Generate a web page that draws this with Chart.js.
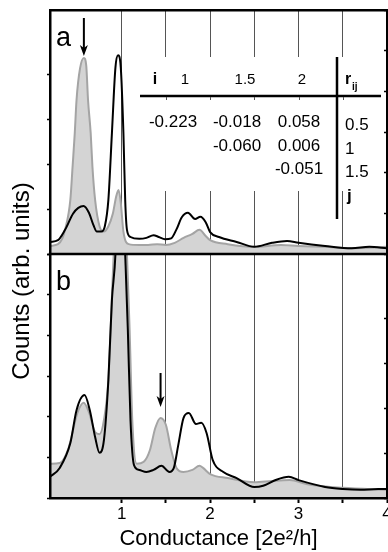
<!DOCTYPE html>
<html>
<head>
<meta charset="utf-8">
<script src="https://cdn.jsdelivr.net/npm/chart.js@4.4.1/dist/chart.umd.min.js"></script>
<style>
  html, body { margin: 0; padding: 0; background: #fff; }
  #wrap { position: relative; width: 388px; height: 552px; }
</style>
</head>
<body>
<div id="wrap"><canvas id="histChart" width="388" height="552"></canvas></div>
<script>
// conductance axis, units of 2e^2/h
const xMin = 0.19, xMax = 4.0;
const xLabelled = [1, 2, 3, 4];

// panel a: grey filled histogram + black curve
const aGrayX = [0.19, 0.28, 0.33, 0.36, 0.42, 0.445, 0.47, 0.49, 0.53, 0.573, 0.60, 0.62, 0.65, 0.67, 0.70, 0.75, 0.80, 0.85, 0.90, 0.94, 0.965, 0.99, 1.02, 1.08, 1.2, 1.3, 1.4, 1.5, 1.6, 1.7, 1.8, 1.88, 1.95, 2.0, 2.2, 2.5, 2.8, 3.0, 3.3, 3.6, 4.0];
const aGrayY = [0.18, 0.22, 0.35, 0.54, 1.21, 1.94, 2.70, 3.44, 4.15, 4.38, 4.20, 3.44, 2.70, 1.94, 1.21, 0.62, 0.50, 0.62, 0.90, 1.30, 1.43, 1.15, 0.50, 0.22, 0.20, 0.20, 0.22, 0.20, 0.25, 0.36, 0.45, 0.54, 0.40, 0.31, 0.22, 0.16, 0.20, 0.18, 0.16, 0.13, 0.16];
const aBlackX = [0.19, 0.28, 0.36, 0.45, 0.51, 0.57, 0.63, 0.68, 0.72, 0.77, 0.81, 0.85, 0.89, 0.93, 0.96, 0.99, 1.02, 1.04, 1.06, 1.10, 1.2, 1.28, 1.36, 1.42, 1.49, 1.56, 1.62, 1.68, 1.75, 1.83, 1.89, 1.95, 2.0, 2.1, 2.3, 2.5, 2.7, 2.87, 3.0, 3.3, 3.6, 3.8, 4.0];
const aBlackY = [0.27, 0.31, 0.54, 0.90, 1.03, 1.07, 0.92, 0.65, 0.50, 0.50, 0.62, 1.21, 2.70, 4.17, 4.44, 4.17, 2.70, 1.21, 0.54, 0.38, 0.34, 0.36, 0.42, 0.38, 0.33, 0.35, 0.55, 0.82, 0.92, 0.78, 0.83, 0.71, 0.49, 0.38, 0.27, 0.16, 0.25, 0.29, 0.25, 0.18, 0.13, 0.16, 0.13];

// panel b (the peak near 1 runs off the top of the panel)
const bGrayX = [0.19, 0.30, 0.40, 0.50, 0.57, 0.63, 0.70, 0.75, 0.80, 0.85, 0.88, 0.91, 0.99, 1.06, 1.09, 1.12, 1.17, 1.25, 1.32, 1.38, 1.44, 1.50, 1.56, 1.62, 1.70, 1.80, 1.88, 1.92, 2.0, 2.2, 2.5, 2.7, 2.9, 3.1, 3.5, 4.0];
const bGrayY = [0.84, 0.86, 1.23, 2.09, 2.34, 2.11, 1.62, 1.57, 1.92, 2.90, 4.38, 6.0, 8.5, 6.0, 4.13, 1.92, 0.84, 0.89, 1.18, 1.72, 1.97, 1.80, 1.18, 0.74, 0.64, 0.69, 0.79, 0.74, 0.59, 0.49, 0.39, 0.42, 0.44, 0.34, 0.25, 0.20];
const bBlackX = [0.19, 0.30, 0.42, 0.49, 0.58, 0.64, 0.70, 0.75, 0.80, 0.85, 0.89, 0.93, 0.98, 1.04, 1.07, 1.10, 1.14, 1.20, 1.28, 1.36, 1.45, 1.54, 1.59, 1.64, 1.70, 1.76, 1.84, 1.90, 1.96, 2.03, 2.15, 2.3, 2.5, 2.6, 2.75, 2.89, 3.0, 3.3, 3.5, 3.7, 3.9, 4.0];
const bBlackY = [0.52, 0.74, 1.35, 2.16, 2.53, 2.16, 1.50, 1.11, 1.43, 2.90, 4.87, 6.0, 9.5, 6.0, 4.13, 1.92, 0.81, 0.69, 0.64, 0.69, 0.79, 0.64, 0.74, 1.30, 1.97, 2.09, 1.82, 1.85, 1.60, 0.93, 0.64, 0.49, 0.27, 0.30, 0.45, 0.52, 0.44, 0.27, 0.22, 0.20, 0.22, 0.22];

// arrows point at these conductance values
const arrowA = 0.573, arrowB = 1.44;

// correlation table r_ij
const colHeads = ['1', '1.5', '2'];
const rowHeads = ['0.5', '1', '1.5'];
const rValues = [
  ['-0.223', '-0.018', '0.058'],
  ['', '-0.060', '0.006'],
  ['', '', '-0.051']
];

const FONT = '"Liberation Sans", Arial, Helvetica, sans-serif';
Chart.defaults.font.family = FONT;
Chart.defaults.color = '#000';

const pts = (xs, ys) => xs.map((x, i) => ({x: x, y: ys[i]}));

// clip every dataset to its own panel (Filler must run after this)
const panelClip = {
  id: 'panelClip',
  beforeDatasetDraw(chart, args) {
    const ys = args.meta.yScale, area = chart.chartArea, ctx = chart.ctx;
    ctx.save();
    ctx.beginPath();
    ctx.rect(area.left, ys.top, area.right - area.left, ys.bottom - ys.top);
    ctx.clip();
  },
  afterDatasetDraw(chart) {
    chart.ctx.restore();
  }
};
if (Chart.Filler) {
  Chart.unregister(Chart.Filler);
  Chart.register(panelClip, Chart.Filler);
} else {
  Chart.register(panelClip);
}

function arrow(ctx, x, y0, y1) {
  ctx.beginPath();
  ctx.moveTo(x, y0);
  ctx.lineTo(x, y1 - 8);
  ctx.lineWidth = 2;
  ctx.stroke();
  ctx.beginPath();
  ctx.moveTo(x, y1);
  ctx.lineTo(x - 4, y1 - 11);
  ctx.lineTo(x, y1 - 8);
  ctx.lineTo(x + 4, y1 - 11);
  ctx.closePath();
  ctx.fill();
}

const decor = {
  id: 'decor',
  beforeDatasetsDraw(chart) {
    // white patch behind the table hides the grid lines
    const ctx = chart.ctx;
    ctx.save();
    ctx.fillStyle = '#fff';
    ctx.fillRect(138, 57, 246, 134);
    ctx.restore();
  },
  afterDatasetsDraw(chart) {
    const {ctx, chartArea: area, scales} = chart;
    const x = scales.x, ya = scales.ya;
    ctx.save();
    ctx.strokeStyle = '#000';
    ctx.fillStyle = '#000';

    // separator between the panels
    ctx.lineWidth = 2.5;
    ctx.beginPath();
    ctx.moveTo(area.left - 1.25, ya.bottom);
    ctx.lineTo(area.right + 1.25, ya.bottom);
    ctx.stroke();

    // panel letters
    ctx.font = '27px ' + FONT;
    ctx.textAlign = 'left';
    ctx.textBaseline = 'alphabetic';
    ctx.fillText('a', 56, 46);
    ctx.fillText('b', 56, 290);

    arrow(ctx, x.getPixelForValue(arrowA), 18, 56);
    arrow(ctx, x.getPixelForValue(arrowB), 373, 407);

    // y title
    ctx.save();
    ctx.translate(22, 281);
    ctx.rotate(-Math.PI / 2);
    ctx.textAlign = 'center';
    ctx.textBaseline = 'middle';
    ctx.font = '24px ' + FONT;
    ctx.fillText('Counts (arb. units)', 0, 0);
    ctx.restore();

    // table lines
    ctx.lineWidth = 2.5;
    ctx.beginPath();
    ctx.moveTo(140, 96);
    ctx.lineTo(381, 96);
    ctx.moveTo(337, 57);
    ctx.lineTo(337, 219);
    ctx.stroke();
    ctx.lineWidth = 1;
    ctx.strokeStyle = '#555';
    ctx.beginPath();
    [1.5, 2, 2.5, 3, 3.5].forEach(v => {
      const px = Math.round(x.getPixelForValue(v)) + 0.5;
      ctx.moveTo(px, 97);
      ctx.lineTo(px, 100);
    });
    ctx.stroke();

    // header
    ctx.textBaseline = 'middle';
    ctx.textAlign = 'center';
    ctx.font = 'bold 16px ' + FONT;
    ctx.fillText('i', 155, 80);
    ctx.font = '15px ' + FONT;
    const headX = [185, 245, 302];
    colHeads.forEach((t, i) => ctx.fillText(t, headX[i], 80));
    ctx.textAlign = 'left';
    ctx.font = 'bold 16px ' + FONT;
    ctx.fillText('r', 345, 80);
    ctx.font = 'bold 10px ' + FONT;
    ctx.fillText('ij', 352, 87);

    // values
    const colX = [173, 237, 299];
    const rowY = [122, 146, 169];
    ctx.font = '17px ' + FONT;
    ctx.textAlign = 'center';
    rValues.forEach((row, r) => row.forEach((t, c) => {
      if (t) ctx.fillText(t, colX[c], rowY[r]);
    }));
    ctx.textAlign = 'left';
    rowHeads.forEach((t, r) => ctx.fillText(t, 345, rowY[r] + 3));
    ctx.font = 'bold 17px ' + FONT;
    ctx.fillText('j', 347, 196);

    ctx.restore();
  }
};

const hideBounds = c => (c.tick && (c.tick.value === xMin || c.tick.value === xMax)) ? 'rgba(0,0,0,0)' : '#555';

function yAxis(pos, stack, max, tl) {
  return {
    type: 'linear',
    position: pos,
    stack: stack,
    stackWeight: 1,
    min: 0,
    max: max,
    ticks: { display: false, stepSize: 1 },
    grid: {
      drawOnChartArea: false,
      drawTicks: true,
      tickLength: tl,
      tickWidth: 1.5,
      tickColor: c => Number.isInteger(c.tick.value) ? '#000' : 'rgba(0,0,0,0)'
    },
    border: { display: true, color: '#000', width: 2.5, z: 1 },
    afterFit: s => { s.width = pos === 'left' ? 50 : 1; }
  };
}

new Chart(document.getElementById('histChart'), {
  type: 'line',
  data: {
    datasets: [
      { data: pts(aBlackX, aBlackY), yAxisID: 'ya', borderColor: '#000', borderWidth: 2, fill: false, order: 1 },
      { data: pts(aGrayX, aGrayY), yAxisID: 'ya', borderColor: '#a4a4a4', backgroundColor: '#d4d4d4', borderWidth: 2, fill: 'origin', order: 2 },
      { data: pts(bBlackX, bBlackY), yAxisID: 'yb', borderColor: '#000', borderWidth: 2, fill: false, order: 1 },
      { data: pts(bGrayX, bGrayY), yAxisID: 'yb', borderColor: '#a4a4a4', backgroundColor: '#d4d4d4', borderWidth: 2, fill: 'origin', order: 2 }
    ]
  },
  options: {
    responsive: false,
    animation: false,
    events: [],
    devicePixelRatio: 1,
    layout: { padding: 0 },
    elements: {
      point: { radius: 0 },
      line: { cubicInterpolationMode: 'monotone' }
    },
    plugins: { legend: { display: false }, tooltip: { enabled: false } },
    scales: {
      x: {
        type: 'linear',
        position: 'bottom',
        min: xMin,
        max: xMax,
        ticks: {
          stepSize: 0.5,
          autoSkip: false,
          maxRotation: 0,
          padding: 1,
          font: { size: 17 },
          callback: v => xLabelled.includes(v) ? String(v) : ''
        },
        grid: {
          color: hideBounds,
          lineWidth: 1,
          drawTicks: true,
          tickLength: 5,
          tickWidth: 2,
          tickColor: c => (c.tick && c.tick.value === xMin) ? 'rgba(0,0,0,0)' : '#000'
        },
        border: { display: true, color: '#000', width: 2.5, z: 1 },
        title: {
          display: true,
          text: 'Conductance [2e²/h]',
          font: { size: 22 },
          padding: { top: 0, bottom: 0 }
        },
        afterFit: s => { s.height = 54; s.paddingLeft = 0; s.paddingRight = 0; }
      },
      xt: {
        type: 'linear',
        position: 'top',
        min: xMin,
        max: xMax,
        ticks: { display: false },
        grid: { display: false, drawTicks: false },
        border: { display: true, color: '#000', width: 2.5, z: 1 },
        afterFit: s => { s.height = 10; s.paddingLeft = 0; s.paddingRight = 0; }
      },
      // stacked panels: the scale listed first ends up at the bottom
      yb: yAxis('left', 'L', 6, 3),
      ya: yAxis('left', 'L', 5.45, 3),
      yb2: yAxis('right', 'R', 6, -3),
      ya2: yAxis('right', 'R', 5.45, -3)
    }
  },
  plugins: [decor]
});
</script>
</body>
</html>
